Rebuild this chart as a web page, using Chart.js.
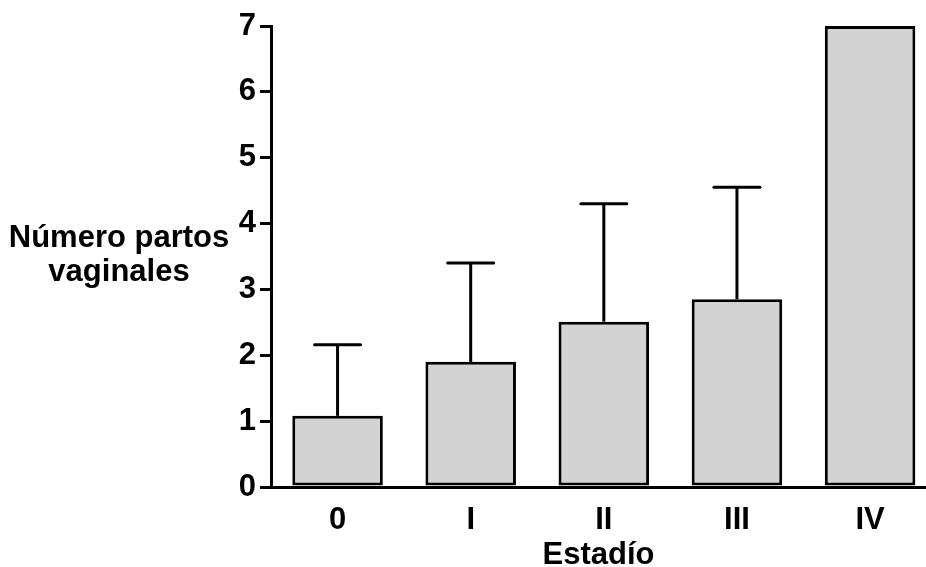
<!DOCTYPE html>
<html>
<head>
<meta charset="utf-8">
<script src="https://cdn.jsdelivr.net/npm/chart.js@4/dist/chart.umd.min.js"></script>
<style>
  html, body { margin: 0; padding: 0; background: #ffffff; }
  #wrap { position: relative; width: 926px; height: 567px; }
</style>
</head>
<body>
<div id="wrap"><canvas id="c"></canvas></div>
<script>
// ---- Data ----
const categories = ['0', 'I', 'II', 'III', 'IV'];
const meanValues = [1.08, 1.90, 2.51, 2.85, 7.00];
const upperErrors = [1.08, 1.50, 1.79, 1.70, 0];
const yTicks = [0, 1, 2, 3, 4, 5, 6, 7];
const yTitleLines = ['Número partos', 'vaginales'];
const xTitle = 'Estadío';

const FONT = '"Liberation Sans", Arial, Helvetica, sans-serif';
const FSIZE = 31;

const barPoints = meanValues.map((v, i) => ({ x: i, y: v }));

const errorBarPlugin = {
  id: 'errorBars',
  afterDatasetsDraw(chart) {
    const ctx = chart.ctx;
    const xs = chart.scales.x, ys = chart.scales.y;
    ctx.save();
    ctx.strokeStyle = '#000';
    ctx.lineWidth = 3;
    for (let i = 0; i < meanValues.length; i++) {
      if (!upperErrors[i]) continue;
      const x = xs.getPixelForValue(i);
      const y0 = ys.getPixelForValue(meanValues[i]);
      const y1 = ys.getPixelForValue(meanValues[i] + upperErrors[i]);
      ctx.lineCap = 'butt';
      ctx.beginPath();
      ctx.moveTo(x, y0);
      ctx.lineTo(x, y1);
      ctx.stroke();
      ctx.lineCap = 'round';
      ctx.beginPath();
      ctx.moveTo(x - 23, y1);
      ctx.lineTo(x + 23, y1);
      ctx.stroke();
    }
    ctx.restore();
  }
};

const yTitlePlugin = {
  id: 'yTitle',
  afterDraw(chart) {
    const ctx = chart.ctx;
    ctx.save();
    ctx.fillStyle = '#000';
    ctx.font = 'bold ' + FSIZE + 'px ' + FONT;
    ctx.textAlign = 'center';
    ctx.textBaseline = 'middle';
    ctx.fillText(yTitleLines[0], 119, 238);
    ctx.fillText(yTitleLines[1], 119, 272);
    ctx.restore();
  }
};

new Chart(document.getElementById('c'), {
  type: 'bar',
  data: {
    datasets: [{
      data: barPoints,
      backgroundColor: '#d3d3d3',
      borderColor: '#000000',
      borderWidth: 3,
      borderSkipped: false,
      categoryPercentage: 1.0,
      barPercentage: 0.68
    }]
  },
  options: {
    responsive: true,
    maintainAspectRatio: false,
    animation: false,
    events: [],
    layout: { padding: { top: 26, right: 0, left: 0, bottom: 0 } },
    plugins: {
      legend: { display: false },
      tooltip: { enabled: false },
      title: { display: false }
    },
    scales: {
      x: {
        type: 'linear',
        offset: false,
        min: -0.5,
        max: 4.42,
        afterBuildTicks(scale) { scale.ticks = categories.map((c, i) => ({ value: i })); },
        grid: { display: true, offset: false, drawOnChartArea: false, drawTicks: false },
        border: { display: true, color: '#000', width: 3 },
        ticks: {
          color: '#000',
          font: { family: FONT, size: FSIZE, weight: 'bold' },
          padding: 15,
          maxRotation: 0,
          autoSkip: false,
          callback: (v) => categories[v]
        },
        title: {
          display: true,
          text: xTitle,
          color: '#000',
          font: { family: FONT, size: FSIZE, weight: 'bold' },
          padding: { top: 4, bottom: -7 }
        },
        afterFit(scale) { scale.height = 80; }
      },
      y: {
        min: 0,
        max: 7,
        afterBuildTicks(scale) { scale.ticks = yTicks.map(v => ({ value: v })); },
        grid: { drawOnChartArea: false, drawTicks: true, tickLength: 11, color: '#000', lineWidth: 3 },
        border: { display: true, color: '#000', width: 3 },
        ticks: {
          color: '#000',
          font: { family: FONT, size: FSIZE, weight: 'bold' },
          padding: 4
        },
        afterFit(scale) { scale.width = 271; }
      }
    }
  },
  plugins: [errorBarPlugin, yTitlePlugin]
});
</script>
</body>
</html>
